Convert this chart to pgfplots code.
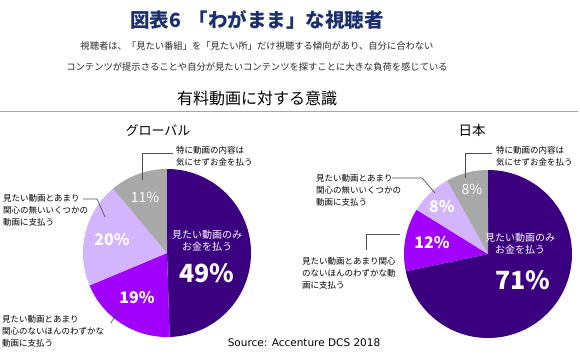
\documentclass[border=0pt]{standalone}
\usepackage{pgfplots}
\pgfplotsset{compat=1.18}
\usepackage{fontspec}
\setmainfont{Noto Sans CJK JP}
\newfontfamily\srcfont{DejaVu Sans}
\definecolor{cdark}{HTML}{3A0080}
\definecolor{cviolet}{HTML}{A100FF}
\definecolor{clav}{HTML}{D2B4FF}
\definecolor{cgray}{HTML}{A8A8A8}
\definecolor{ctitle}{HTML}{1B2E6E}
\definecolor{cline}{HTML}{505050}
% slice: {cx}{cy}{cum start %}{cum end %}{total}{color}
\newcommand\slice[6]{%
  \addplot[fill=#6, draw=none, domain=90-#4*360/#5:90-#3*360/#5, samples=120, variable=\t]
    ({#1+84*cos(\t)},{#2+84*sin(\t)}) -- (axis cs:#1,#2) -- cycle;}
\newcommand\fs[1]{\fontsize{#1}{#1}\selectfont}
\begin{document}
\begin{tikzpicture}
\begin{axis}[width=580pt,height=356pt,scale only axis,
  xmin=0,xmax=580,ymin=0,ymax=356,hide axis,clip=false]
% Global: 49, 19, 20, 11 (total 99)
\slice{167}{103}{0}{49}{99}{cdark}
\slice{167}{103}{49}{68}{99}{cviolet}
\slice{167}{103}{68}{88}{99}{clav}
\slice{167}{103}{88}{99}{99}{cgray}
% Japan: 71, 12, 8, 8 (total 99)
\slice{488}{102}{0}{71}{99}{cdark}
\slice{488}{102}{71}{83}{99}{cviolet}
\slice{488}{102}{83}{91}{99}{clav}
\slice{488}{102}{91}{99}{99}{cgray}
% titles
\node[text=ctitle,font=\fs{19.5}\bfseries] at (257,336) {図表6\hspace{0.4em}「わがまま」な視聴者};
\node[text=black!85,font=\fs{9.3},align=center] at (257,299.5) {視聴者は、「見たい番組」を「見たい所」だけ視聴する傾向があり、自分に合わない\\[11pt]コンテンツが提示さることや自分が見たいコンテンツを探すことに大きな負荷を感じている};
\node[font=\fs{16}] at (257,258) {有料動画に対する意識};
\draw[gray!70,line width=0.8pt] (0,245) -- (578,245);
\node[font=\fs{13}] at (158,226) {グローバル};
\node[font=\fs{13.5}] at (472,226) {日本};
% global outside labels
\node[anchor=west,align=left,font=\fs{8.5},inner sep=0pt] at (176,200) {特に動画の内容は\\[3.5pt]気にせずお金を払う};
\draw[cline,line width=0.7pt] (142,176) -- (142,203) -- (173,203);
\node[anchor=west,align=left,font=\fs{8.5},inner sep=0pt] at (3,146) {見たい動画とあまり\\[3.5pt]関心の無いいくつかの\\[3.5pt]動画に支払う};
\draw[cline,line width=0.7pt] (83,157) -- (97,157) -- (105,139);
\node[anchor=west,align=left,font=\fs{8.5},inner sep=0pt] at (2,25) {見たい動画とあまり\\[3.5pt]関心のないほんのわずかな\\[3.5pt]動画に支払う};
\draw[cline,line width=0.7pt] (119,48) -- (111,33);
% global inside labels
\node[text=white,font=\fs{14}] at (145,159) {11\%};
\node[text=white,font=\fs{16}\bfseries] at (112,116) {20\%};
\node[text=white,font=\fs{16}\bfseries] at (137,58) {19\%};
\node[text=white,font=\fs{10},align=center] at (207,115) {見たい動画のみ\\[2pt]お金を払う};
\node[text=white,font=\fs{25}\bfseries] at (207,83) {49\%};
% japan outside labels
\node[anchor=west,align=left,font=\fs{8.5},inner sep=0pt] at (496,200) {特に動画の内容は\\[3.5pt]気にせずお金を払う};
\draw[cline,line width=0.7pt] (465,178) -- (465,203) -- (492,203);
\node[anchor=west,align=left,font=\fs{8.5},inner sep=0pt] at (316,166) {見たい動画とあまり\\[3.5pt]関心の無いいくつかの\\[3.5pt]動画に支払う};
\draw[cline,line width=0.7pt] (392,178) -- (422,178) -- (435,163);
\node[anchor=west,align=left,font=\fs{8.5},inner sep=0pt] at (302,83) {見たい動画とあまり関心\\[3.5pt]のないほんのわずかな動\\[3.5pt]画に支払う};
\draw[cline,line width=0.7pt] (366,106) -- (366,122) -- (400,122);
% japan inside labels
\node[text=white,font=\fs{14}] at (472,167) {8\%};
\node[text=white,font=\fs{16}\bfseries] at (442,149) {8\%};
\node[text=white,font=\fs{16}\bfseries] at (432,113) {12\%};
\node[text=white,font=\fs{10},align=center] at (520,112) {見たい動画のみ\\[2pt]お金を払う};
\node[text=white,font=\fs{25}\bfseries] at (523,76) {71\%};
% source
\node[font=\srcfont\fs{10.5}] at (304,13) {Source: Accenture DCS 2018};
\end{axis}
\pgfresetboundingbox
\path (current axis.south west) rectangle (current axis.north east);
\end{tikzpicture}
\end{document}
